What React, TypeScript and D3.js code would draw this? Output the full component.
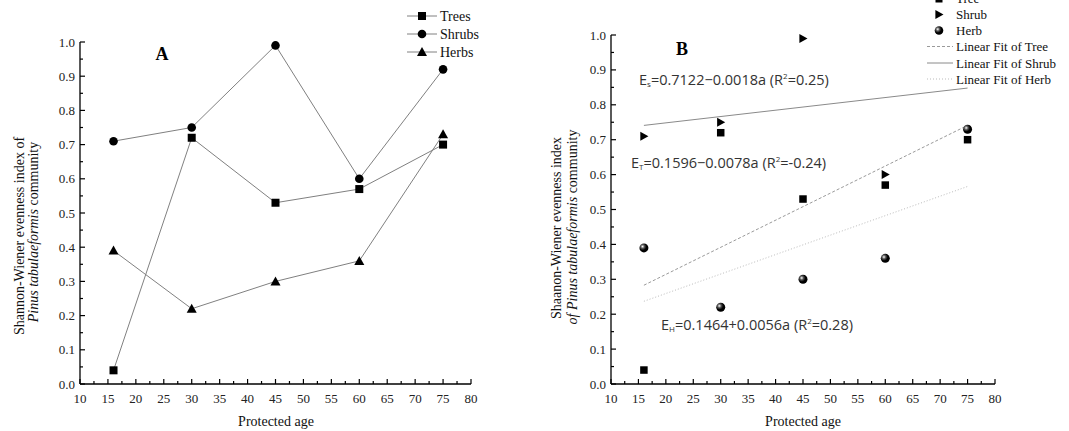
import React from "react";
import * as d3 from "d3";

const ages = [16, 30, 45, 60, 75];
const treesA = [0.04, 0.72, 0.53, 0.57, 0.7];
const shrubsA = [0.71, 0.75, 0.99, 0.6, 0.92];
const herbsA = [0.39, 0.22, 0.3, 0.36, 0.73];

const shrubAgesB = [16, 30, 45, 60];
const shrubsB = [0.71, 0.75, 0.99, 0.6];
const treesB = [0.04, 0.72, 0.53, 0.57, 0.7];
const herbsB = [0.39, 0.22, 0.3, 0.36, 0.73];

const fitAges = [16, 75];
const treeFit = [0.283, 0.741];
const shrubFit = [0.741, 0.848];
const herbFit = [0.237, 0.566];

const xTicks = d3.range(10, 81, 5);
const xMinor = d3.range(12.5, 80, 5);
const yTicks = d3.range(0, 11).map((d) => d / 10);
const yMinor = d3.range(0, 10).map((d) => d / 10 + 0.05);

const serif = "'Liberation Serif', 'Times New Roman', serif";
const sans = "'Open Sans', 'DejaVu Sans', sans-serif";

type Panel = { x0: number; x1: number; y0: number; y1: number; labelRight: number };

function Axes({ p, x, y }: { p: Panel; x: d3.ScaleLinear<number, number>; y: d3.ScaleLinear<number, number> }) {
  return (
    <g>
      <line x1={p.x0} x2={p.x1} y1={p.y0} y2={p.y0} stroke="#000" strokeWidth={1.3} />
      <line x1={p.x0} x2={p.x0} y1={p.y0} y2={p.y1} stroke="#000" strokeWidth={1.3} />
      {xTicks.map((t) => (
        <g key={"xt" + t}>
          <line x1={x(t)} x2={x(t)} y1={p.y0} y2={p.y0 - 5} stroke="#000" strokeWidth={1.2} />
          <text x={x(t)} y={403} fontSize={13} fontFamily={serif} textAnchor="middle" fill="#222">
            {t}
          </text>
        </g>
      ))}
      {xMinor.map((t) => (
        <line key={"xm" + t} x1={x(t)} x2={x(t)} y1={p.y0} y2={p.y0 - 3} stroke="#000" strokeWidth={1.2} />
      ))}
      {yTicks.map((t) => (
        <g key={"yt" + t}>
          <line x1={p.x0} x2={p.x0 + 5} y1={y(t)} y2={y(t)} stroke="#000" strokeWidth={1.2} />
          <text x={p.labelRight} y={y(t) + 4.5} fontSize={13} fontFamily={serif} textAnchor="end" fill="#222">
            {t.toFixed(1)}
          </text>
        </g>
      ))}
      {yMinor.map((t) => (
        <line key={"ym" + t} x1={p.x0} x2={p.x0 + 3} y1={y(t)} y2={y(t)} stroke="#000" strokeWidth={1.2} />
      ))}
    </g>
  );
}

const Square = ({ cx, cy, s = 8 }: { cx: number; cy: number; s?: number }) => (
  <rect x={cx - s / 2} y={cy - s / 2} width={s} height={s} fill="#000" />
);
const Circle = ({ cx, cy, r = 4.3 }: { cx: number; cy: number; r?: number }) => (
  <circle cx={cx} cy={cy} r={r} fill="#000" />
);
const TriUp = ({ cx, cy, s = 10 }: { cx: number; cy: number; s?: number }) => (
  <path d={`M${cx - s / 2},${cy + s * 0.4} L${cx + s / 2},${cy + s * 0.4} L${cx},${cy - s * 0.5} Z`} fill="#000" />
);
const TriRight = ({ cx, cy, s = 10 }: { cx: number; cy: number; s?: number }) => (
  <path d={`M${cx - s * 0.4},${cy - s / 2} L${cx - s * 0.4},${cy + s / 2} L${cx + s * 0.5},${cy} Z`} fill="#000" />
);
const Ball = ({ cx, cy, r = 4.5 }: { cx: number; cy: number; r?: number }) => (
  <g>
    <circle cx={cx} cy={cy} r={r} fill="url(#ballGrad)" />
  </g>
);

export default function App() {
  const pA: Panel = { x0: 80, x1: 471, y0: 384, y1: 42, labelRight: 75 };
  const pB: Panel = { x0: 611, x1: 995, y0: 384, y1: 35, labelRight: 606 };
  const xA = d3.scaleLinear().domain([10, 80]).range([pA.x0, pA.x1]);
  const yA = d3.scaleLinear().domain([0, 1]).range([pA.y0, pA.y1]);
  const xB = d3.scaleLinear().domain([10, 80]).range([pB.x0, pB.x1]);
  const yB = d3.scaleLinear().domain([0, 1]).range([pB.y0, pB.y1]);

  const lineA = (vals: number[]) =>
    d3.line<number>().x((_, i) => xA(ages[i])).y((d) => yA(d))(vals) || "";
  const fitLine = (vals: number[]) =>
    d3.line<number>().x((_, i) => xB(fitAges[i])).y((d) => yB(d))(vals) || "";

  const gray = "#808080";

  return (
    <svg
      width={1069}
      height={431}
      style={{ position: "absolute", left: 0, top: 0, background: "#fff" }}
    >
      <defs>
        <radialGradient id="ballGrad" cx="0.35" cy="0.35" r="0.7">
          <stop offset="0" stopColor="#fff" />
          <stop offset="0.3" stopColor="#555" />
          <stop offset="0.6" stopColor="#000" />
          <stop offset="1" stopColor="#000" />
        </radialGradient>
      </defs>
      <rect width={1069} height={431} fill="#fff" />

      {/* Panel A */}
      <Axes p={pA} x={xA} y={yA} />
      <path d={lineA(treesA)} fill="none" stroke={gray} strokeWidth={1} />
      <path d={lineA(shrubsA)} fill="none" stroke={gray} strokeWidth={1} />
      <path d={lineA(herbsA)} fill="none" stroke={gray} strokeWidth={1} />
      {treesA.map((v, i) => (
        <Square key={"ta" + i} cx={xA(ages[i])} cy={yA(v)} />
      ))}
      {shrubsA.map((v, i) => (
        <Circle key={"sa" + i} cx={xA(ages[i])} cy={yA(v)} />
      ))}
      {herbsA.map((v, i) => (
        <TriUp key={"ha" + i} cx={xA(ages[i])} cy={yA(v)} />
      ))}
      <text x={162} y={60} fontSize={18} fontWeight="bold" fontFamily={serif} textAnchor="middle">
        A
      </text>
      {/* Legend A */}
      {[
        { label: "Trees", y: 16, M: Square },
        { label: "Shrubs", y: 34, M: Circle },
        { label: "Herbs", y: 52, M: TriUp },
      ].map((l) => (
        <g key={l.label}>
          <line x1={407} x2={437} y1={l.y} y2={l.y} stroke={gray} strokeWidth={1} />
          <l.M cx={422} cy={l.y} />
          <text x={440} y={l.y + 5} fontSize={14} fontFamily={serif} fill="#111">
            {l.label}
          </text>
        </g>
      ))}
      <text
        transform={`translate(24,236) rotate(-90)`}
        fontSize={14}
        fontFamily={serif}
        textAnchor="middle"
        fill="#111"
      >
        Shannon-Wiener evenness index of
      </text>
      <text
        transform={`translate(38,232) rotate(-90)`}
        fontSize={14}
        fontFamily={serif}
        textAnchor="middle"
        fill="#111"
      >
        <tspan fontStyle="italic">Pinus tabulaeformis</tspan> community
      </text>
      <text x={276} y={426} fontSize={14} fontFamily={serif} textAnchor="middle" fill="#111">
        Protected age
      </text>

      {/* Panel B */}
      <Axes p={pB} x={xB} y={yB} />
      <path d={fitLine(shrubFit)} fill="none" stroke="#8a8a8a" strokeWidth={1} />
      <path d={fitLine(treeFit)} fill="none" stroke="#9a9a9a" strokeWidth={1} strokeDasharray="3,2" />
      <path d={fitLine(herbFit)} fill="none" stroke="#bbb" strokeWidth={1} strokeDasharray="1,2" />
      {treesB.map((v, i) => (
        <Square key={"tb" + i} cx={xB(ages[i])} cy={yB(v)} s={7.5} />
      ))}
      {shrubsB.map((v, i) => (
        <TriRight key={"sb" + i} cx={xB(shrubAgesB[i])} cy={yB(v)} s={9} />
      ))}
      {herbsB.map((v, i) => (
        <Ball key={"hb" + i} cx={xB(ages[i])} cy={yB(v)} />
      ))}
      <text x={682} y={55} fontSize={18} fontWeight="bold" fontFamily={serif} textAnchor="middle">
        B
      </text>
      <text x={639} y={85} fontSize={14.5} fontFamily={sans} fill="#333">
        E<tspan fontSize={8} dy={2}>s</tspan>
        <tspan dy={-2}>=0.7122−0.0018a (R</tspan>
        <tspan fontSize={8} dy={-6}>2</tspan>
        <tspan dy={6}>=0.25)</tspan>
      </text>
      <text x={631} y={168} fontSize={14.5} fontFamily={sans} fill="#333">
        E<tspan fontSize={8} dy={2}>T</tspan>
        <tspan dy={-2}>=0.1596−0.0078a (R</tspan>
        <tspan fontSize={8} dy={-6}>2</tspan>
        <tspan dy={6}>=-0.24)</tspan>
      </text>
      <text x={661} y={330} fontSize={14.5} fontFamily={sans} fill="#333">
        E<tspan fontSize={8} dy={2}>H</tspan>
        <tspan dy={-2}>=0.1464+0.0056a (R</tspan>
        <tspan fontSize={8} dy={-6}>2</tspan>
        <tspan dy={6}>=0.28)</tspan>
      </text>
      {/* Legend B */}
      <Square cx={939} cy={-1} s={7} />
      <text x={956} y={3} fontSize={13} fontFamily={serif} fill="#111">
        Tree
      </text>
      <TriRight cx={939} cy={14.5} s={9} />
      <text x={956} y={19} fontSize={13} fontFamily={serif} fill="#111">
        Shrub
      </text>
      <Ball cx={939} cy={30.5} r={4.3} />
      <text x={956} y={35} fontSize={13} fontFamily={serif} fill="#111">
        Herb
      </text>
      <line x1={927} x2={953} y1={46.5} y2={46.5} stroke="#9a9a9a" strokeWidth={1} strokeDasharray="3,2" />
      <text x={956} y={51} fontSize={13} fontFamily={serif} fill="#111">
        Linear Fit of Tree
      </text>
      <line x1={927} x2={953} y1={63} y2={63} stroke="#8a8a8a" strokeWidth={1} />
      <text x={956} y={67.5} fontSize={13} fontFamily={serif} fill="#111">
        Linear Fit of Shrub
      </text>
      <line x1={927} x2={953} y1={79} y2={79} stroke="#bbb" strokeWidth={1} strokeDasharray="1,2" />
      <text x={956} y={83.5} fontSize={13} fontFamily={serif} fill="#111">
        Linear Fit of Herb
      </text>
      <text
        transform={`translate(561,228) rotate(-90)`}
        fontSize={14}
        fontFamily={serif}
        textAnchor="middle"
        fill="#111"
      >
        Shaanon-Wiener evenness index
      </text>
      <text
        transform={`translate(577,227) rotate(-90)`}
        fontSize={14}
        fontFamily={serif}
        textAnchor="middle"
        fill="#111"
      >
        <tspan fontStyle="italic">of Pinus tabulaeformis</tspan> community
      </text>
      <text x={803} y={426} fontSize={14} fontFamily={serif} textAnchor="middle" fill="#111">
        Protected age
      </text>
    </svg>
  );
}
